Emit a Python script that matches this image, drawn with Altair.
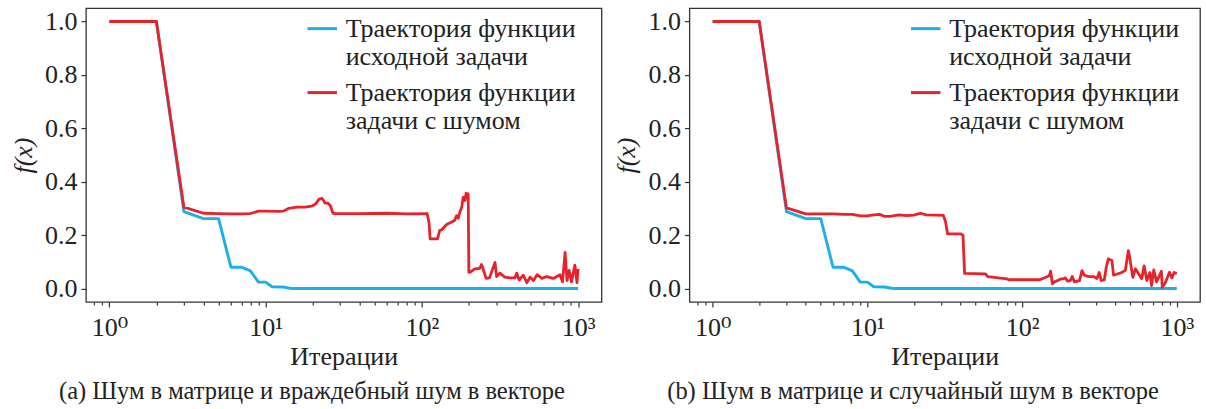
import altair as alt
import pandas as pd

FONT = "'Liberation Serif', 'Times New Roman', 'DejaVu Serif', serif"
BLUE = "#1cb0ea"
RED = "#e8222b"

SERIES_ORIG = "Траектория функции исходной задачи"
SERIES_NOISY = "Траектория функции задачи с шумом"

# trajectory of the original (noise-free) problem, same in both panels
orig_iter = [1, 2, 3, 4, 5, 6, 7, 8, 9, 10, 11, 13, 14, 15, 1000]
orig_val = [1.0, 1.0, 0.288, 0.262, 0.262, 0.08, 0.08, 0.066, 0.024, 0.024,
            0.007, 0.006, 0.002, 0.0, 0.0]

# (a) matrix noise + adversarial vector noise
adv_iter = [1, 2, 3, 4, 5, 6, 7, 8, 9, 10, 12, 13, 14, 16, 18, 20, 21, 22, 23,
            24, 25, 26, 27, 28, 40, 60, 80, 108, 111, 113, 126, 130, 134, 144,
            154, 162, 167, 171, 175, 180, 184, 189, 192, 195, 198, 200, 203,
            218, 235, 241, 246, 258, 271, 294, 301, 316, 340, 366, 394, 405,
            420, 446, 470, 494, 518, 547, 586, 631, 694, 766, 795, 826, 850,
            876, 908, 954, 984, 1000]
adv_val = [1.0, 1.0, 0.305, 0.282, 0.281, 0.28, 0.28, 0.281, 0.29, 0.29, 0.289,
           0.29, 0.3, 0.305, 0.305, 0.31, 0.318, 0.335, 0.338, 0.32, 0.32, 0.31,
           0.282, 0.281, 0.281, 0.282, 0.28, 0.281, 0.25, 0.186, 0.186, 0.217,
           0.22, 0.24, 0.248, 0.255, 0.273, 0.263, 0.286, 0.305, 0.342, 0.33,
           0.357, 0.35, 0.355, 0.061, 0.061, 0.074, 0.076, 0.09, 0.075, 0.038,
           0.04, 0.098, 0.045, 0.058, 0.043, 0.04, 0.04, 0.058, 0.032, 0.05,
           0.022, 0.043, 0.03, 0.052, 0.038, 0.045, 0.038, 0.052, 0.025, 0.135,
           0.03, 0.068, 0.025, 0.088, 0.022, 0.074]

# (b) matrix noise + random vector noise
rnd_iter = [1, 2, 3, 4, 5, 6, 7, 8, 9, 10, 11, 12, 13, 14, 16, 18, 20, 22, 24,
            28, 31, 32, 33, 40, 41.5, 42.5, 58, 60, 80, 82, 130, 135, 150, 153,
            157, 162, 170, 178, 183, 190, 197, 205, 211, 218, 235, 244, 252,
            270, 290, 305, 315, 325, 340, 350, 361, 381, 390, 440, 465, 486,
            495, 520, 540, 560, 593, 615, 640, 670, 687, 710, 740, 760, 795,
            805, 840, 897, 930, 960, 1000]
rnd_val = [1.0, 1.0, 0.302, 0.28, 0.28, 0.28, 0.278, 0.278, 0.272, 0.272,
           0.276, 0.278, 0.27, 0.27, 0.276, 0.273, 0.275, 0.282, 0.276, 0.275,
           0.274, 0.25, 0.205, 0.205, 0.2, 0.057, 0.055, 0.045, 0.036, 0.033,
           0.033, 0.037, 0.048, 0.065, 0.018, 0.025, 0.03, 0.036, 0.036, 0.04,
           0.028, 0.03, 0.045, 0.025, 0.03, 0.067, 0.05, 0.045, 0.045, 0.038,
           0.06, 0.03, 0.033, 0.08, 0.111, 0.105, 0.05, 0.06, 0.068, 0.142,
           0.12, 0.042, 0.074, 0.06, 0.037, 0.085, 0.03, 0.06, 0.011, 0.07,
           0.025, 0.04, 0.065, 0.005, 0.02, 0.061, 0.04, 0.06, 0.057]

MAJOR_TICKS = [1, 10, 100, 1000]
MINOR_TICKS = [0.8, 0.9] + [m * 10 ** k for k in range(3) for m in range(2, 10)]
Y_TICKS = [0.0, 0.2, 0.4, 0.6, 0.8, 1.0]
X_DOMAIN = [10 ** -0.15, 10 ** 3.15]
Y_DOMAIN = [-0.05, 1.05]

SUPERSCRIPT_EXPR = ("datum.value == 1 ? '10⁰' : datum.value == 10 ? '10¹' : "
                    "datum.value == 100 ? '10²' : '10³'")

TEXT_STYLE = dict(labelFont=FONT, labelFontSize=26, labelColor="#222")


def frame(iters, vals, name):
    return pd.DataFrame({"iter": iters, "f": vals, "series": name})


def panel(noisy_iter, noisy_val, caption, width):
    color = alt.Color(
        "series:N",
        scale=alt.Scale(domain=[SERIES_ORIG, SERIES_NOISY], range=[BLUE, RED]),
        legend=alt.Legend(
            title=None, orient="none", legendX=220, legendY=4,
            symbolType="stroke", symbolSize=870, symbolStrokeWidth=3,
            labelExpr="[slice(datum.label, 0, 18), slice(datum.label, 19)]",
            labelLimit=0, labelOffset=7, rowPadding=6, padding=0,
            **TEXT_STYLE,
        ),
    )
    y = alt.Y("f:Q", scale=alt.Scale(domain=Y_DOMAIN, nice=False, zero=False),
              axis=alt.Axis(values=Y_TICKS, format=".1f", title="f(x)",
                            titleFont=FONT, titleFontSize=26, titleColor="#222",
                            titleFontStyle="italic", titleFontWeight="normal",
                            titlePadding=8, labelPadding=4, tickSize=5,
                            **TEXT_STYLE))
    x_major = alt.X("iter:Q", scale=alt.Scale(type="log", domain=X_DOMAIN, nice=False),
                    axis=alt.Axis(values=MAJOR_TICKS, labelExpr=SUPERSCRIPT_EXPR,
                                  title="Итерации", titleFont=FONT, titleFontSize=26,
                                  titleColor="#222", titleFontWeight="normal",
                                  tickSize=5, labelPadding=8, titlePadding=3,
                                  orient="bottom", **TEXT_STYLE))
    x_minor = alt.X("iter:Q", scale=alt.Scale(type="log", domain=X_DOMAIN, nice=False),
                    axis=alt.Axis(values=MINOR_TICKS, labels=False, title=None,
                                  tickSize=3, orient="bottom"))
    orig = alt.Chart(frame(orig_iter, orig_val, SERIES_ORIG)).mark_line(
        strokeWidth=2.9, strokeJoin="round").encode(x=x_major, y=y, color=color)
    noisy = alt.Chart(frame(noisy_iter, noisy_val, SERIES_NOISY)).mark_line(
        strokeWidth=2.8, strokeJoin="round").encode(x=x_minor, y=y, color=color)
    return alt.layer(orig, noisy).resolve_axis(x="independent").properties(
        width=width, height=294,
        title=alt.Title(caption, orient="bottom", anchor="middle", frame="bounds",
                        font=FONT, fontSize=24.5, fontWeight="normal",
                        color="#222", offset=10, dx=6),
    )


left = panel(adv_iter, adv_val, "(a) Шум в матрице и враждебный шум в векторе", 516)
right = panel(rnd_iter, rnd_val, "(b) Шум в матрице и случайный шум в векторе", 511)

chart = alt.hconcat(left, right, spacing=88, bounds="flush").resolve_legend(
    color="independent"
).properties(
    padding={"left": 9, "top": 7, "right": 5, "bottom": 0},
    background="white",
).configure(
    font=FONT
).configure_view(
    stroke="#333", strokeWidth=1.3
).configure_axis(
    domain=False, grid=False, tickColor="#333", tickWidth=1.2,
)

chart.save("out.html", embed_options={"renderer": "svg", "actions": False})
